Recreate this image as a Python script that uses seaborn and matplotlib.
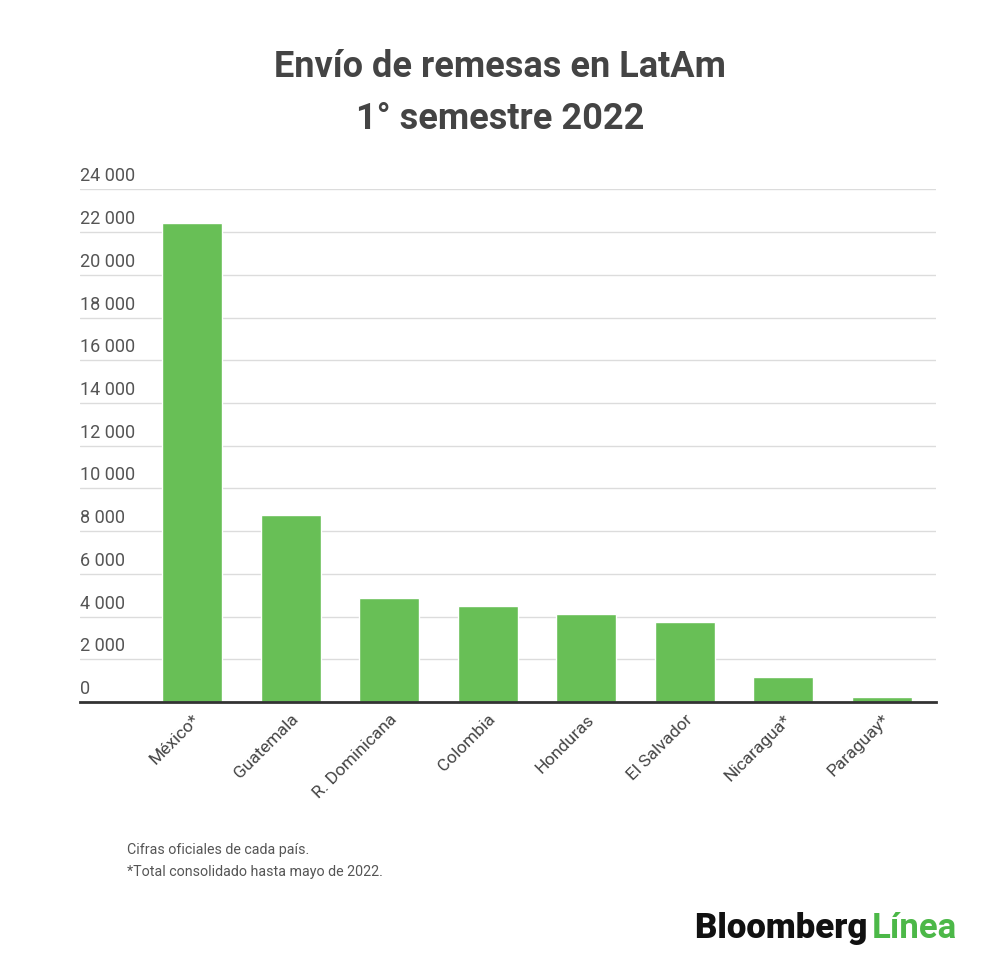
import matplotlib
matplotlib.use('Agg')
import matplotlib.pyplot as plt
import matplotlib.transforms as mtransforms
import pandas as pd
import seaborn as sns

# values (millones USD)
countries = ['México*', 'Guatemala', 'R. Dominicana', 'Colombia', 'Honduras',
             'El Salvador', 'Nicaragua*', 'Paraguay*']
remesas = [22405, 8750, 4880, 4480, 4140, 3740, 1185, 250]
y_ticks = [0, 2000, 4000, 6000, 8000, 10000, 12000, 14000, 16000, 18000,
           20000, 22000, 24000]
tick_labels = ['0', '2 000', '4 000', '6 000', '8 000', '10 000', '12 000', '14 000',
               '16 000', '18 000', '20 000', '22 000', '24 000']

df = pd.DataFrame({'pais': countries, 'remesas': remesas})

sns.set_style('white')
plt.rcParams['font.family'] = ['Roboto', 'DejaVu Sans']

fig = plt.figure(figsize=(10, 9.71), dpi=100)
ax = fig.add_axes([0.08, 0.277, 0.856, 0.528])

sns.barplot(data=df, x='pais', y='remesas', color='#68BF56', saturation=1,
            width=0.61, ax=ax)

ax.set_ylim(0, 24000)
ax.set_xlim(-1.14, 7.55)
ax.set_yticks(y_ticks)
ax.set_yticklabels([])
ax.tick_params(axis='y', length=0)
ax.tick_params(axis='x', length=0, pad=7)
ax.grid(axis='y', color='#dcdcdc', linewidth=1)
ax.set_axisbelow(True)
for s in ['top', 'left', 'right']:
    ax.spines[s].set_visible(False)
ax.spines['bottom'].set_color('#333333')
ax.spines['bottom'].set_linewidth(2)
ax.set_xlabel('')
ax.set_ylabel('')

# y labels sit above the grid lines
trans = mtransforms.blended_transform_factory(ax.transAxes, ax.transData)
offset = mtransforms.offset_copy(trans, fig=fig, x=0, y=4, units='dots')
for v, lab in zip(y_ticks, tick_labels):
    ax.text(0.0, v, lab, transform=offset, ha='left', va='bottom',
            fontsize=13, color='#555555')

ax.set_xticks(range(len(countries)))
ax.set_xticklabels(countries, rotation=45, ha='right', rotation_mode='anchor',
                   fontsize=12.5, color='#444444')

fig.text(0.5, 0.931, 'Envío de remesas en LatAm', ha='center', va='center',
         fontsize=26, fontweight='bold', color='#444444')
fig.text(0.5, 0.877, '1° semestre 2022', ha='center', va='center',
         fontsize=26, fontweight='bold', color='#444444')

fig.text(0.127, 0.125, 'Cifras oficiales de cada país.', ha='left', va='center',
         fontsize=10.3, color='#555555')
fig.text(0.127, 0.102, '*Total consolidado hasta mayo de 2022.', ha='left', va='center',
         fontsize=10.3, color='#555555')

t1 = fig.text(0.695, 0.044, 'Bloomberg ', ha='left', va='center',
              fontsize=25, fontweight='black', color='#111111')
fig.canvas.draw()
bb = t1.get_window_extent()
fig.text(bb.x1 / fig.bbox.width - 0.004, 0.044, 'Línea', ha='left', va='center',
         fontsize=25, fontweight='bold', color='#4CB848')

fig.savefig('out.png', dpi=100, facecolor='white')
